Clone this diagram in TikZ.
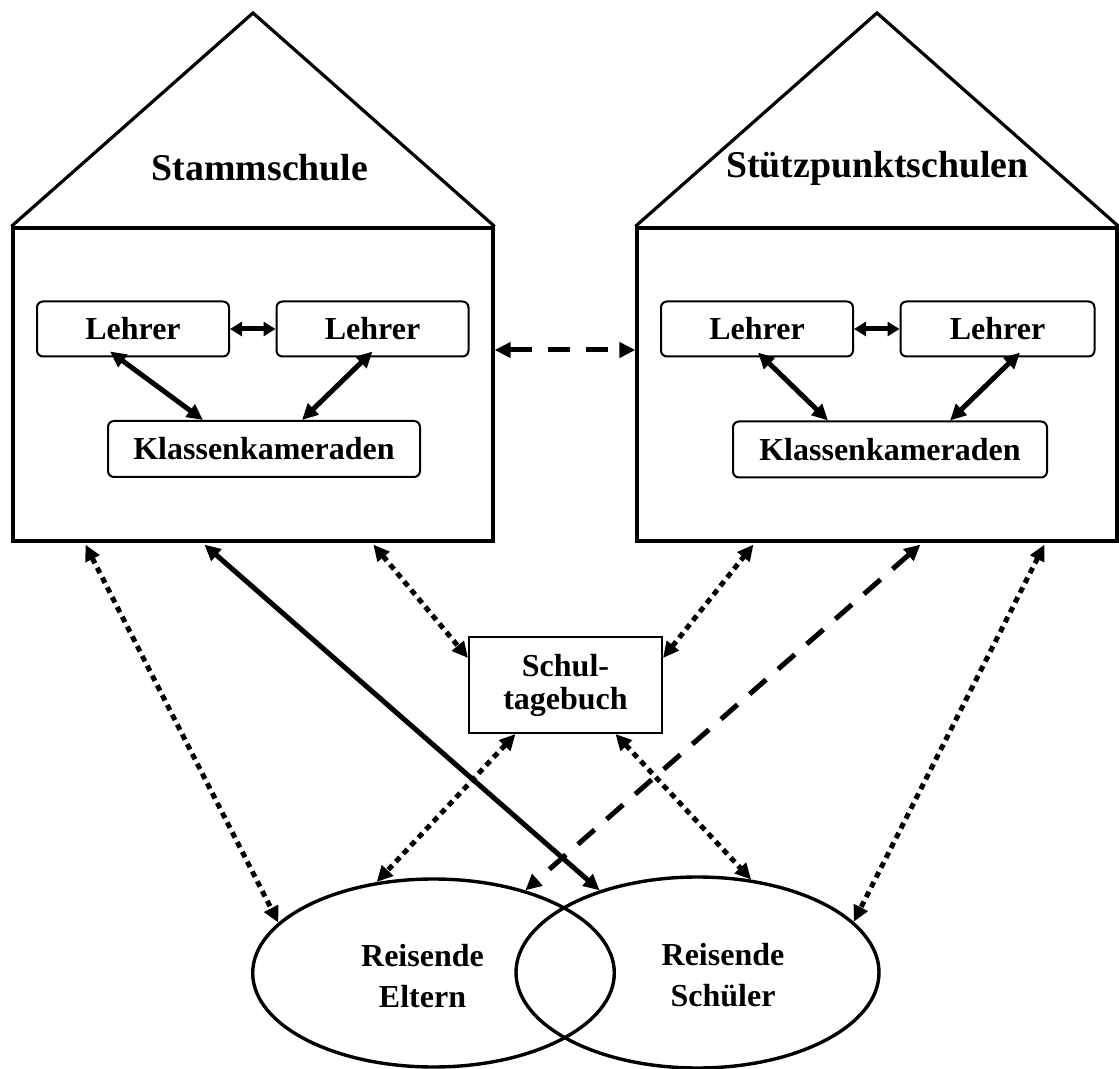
\documentclass[tikz,border=0pt]{standalone}
\usepackage{fontspec}
\setmainfont{Liberation Serif}
\usetikzlibrary{arrows.meta,shapes.geometric,calc}

\begin{document}
\begin{tikzpicture}[x=0.5pt,y=-0.5pt,
  housebody/.style={draw, line width=1.6pt, minimum width=240pt, minimum height=156.5pt, inner sep=0pt},
  roofline/.style={line width=1.6pt, line join=miter},
  titletext/.style={inner sep=0pt, font=\fontsize{18.9}{22}\selectfont\bfseries},
  teacherbox/.style={draw, rounded corners=3pt, line width=1pt, minimum width=96pt, minimum height=27.5pt, inner sep=0pt, font=\fontsize{16}{19}\selectfont\bfseries},
  classbox/.style={teacherbox, minimum width=156pt, minimum height=28pt},
  diarybox/.style={draw, line width=1pt, minimum width=96.5pt, minimum height=48pt, inner sep=0pt, align=center, font=\fontsize{16}{16.5}\selectfont\bfseries},
  groupellipse/.style={draw, ellipse, line width=1.7pt, inner sep=0pt},
  grouptext/.style={inner sep=0pt, align=center, font=\fontsize{16}{20.5}\selectfont\bfseries},
  biarrow/.style={{Triangle[length=8pt,width=7.5pt]}-{Triangle[length=8pt,width=7.5pt]}, line width=2.5pt},
  shortarrow/.style={{Triangle[length=6pt,width=7pt]}-{Triangle[length=6pt,width=7pt]}, line width=2.5pt},
  dotarrow/.style={biarrow, dash pattern=on 3pt off 2.5pt},
  dasharrow/.style={biarrow, dash pattern=on 11pt off 8pt}
]
\useasboundingbox (0,0) rectangle (1119,1069);

% houses
\node[housebody] (lbody) at (253,384.5) {};
\node[housebody] (rbody) at (877,384.5) {};
\coordinate (lapex) at (253,13);
\coordinate (rapex) at (877,13);
\draw[roofline] (lbody.north west) -- (lapex) -- (lbody.north east);
\draw[roofline] (rbody.north west) -- (rapex) -- (rbody.north east);
\node[titletext] (ltitle) at (260,168) {Stammschule};
\node[titletext] (rtitle) at (877.5,168) {Stützpunktschulen};

% left house inner
\node[teacherbox] (ll1) at (133,329) {Lehrer};
\node[teacherbox] (ll2) at (372.5,329) {Lehrer};
\node[classbox] (lkk) at (264,449) {Klassenkameraden};
\draw[shortarrow] (ll1.east) -- (ll2.west);
\draw[biarrow] ($(ll1.south)+(-23,-6)$) -- ($(lkk.north)+(-61,0)$);
\draw[biarrow] ($(ll2.south)+(0,-6)$) -- ($(lkk.north)+(38,0)$);

% right house inner
\node[teacherbox] (rl1) at (757,329) {Lehrer};
\node[teacherbox, minimum width=97pt] (rl2) at (997.5,329) {Lehrer};
\node[classbox, minimum width=157pt] (rkk) at (890,449.5) {Klassenkameraden};
\draw[shortarrow] (rl1.east) -- (rl2.west);
\draw[biarrow] ($(rl1.south)+(1,-5)$) -- ($(rkk.north)+(-62,0)$);
\draw[biarrow] ($(rl2.south)+(22.5,-5)$) -- ($(rkk.north)+(60,0)$);

% link between houses
\draw[dasharrow] ($(lbody.east)+(0,-34.5)$) -- ($(rbody.west)+(0,-34.5)$);

% diary
\node[diarybox] (diary) at (565.5,685) {Schul-\\tagebuch};

% groups
\node[groupellipse, minimum width=180.8pt, minimum height=94pt] (parents) at (433.5,973) {};
\node[groupellipse, minimum width=181.5pt, minimum height=95.5pt] (pupils) at (697.5,972.5) {};
\node[grouptext] (parentstext) at (422.5,976) {Reisende\\Eltern};
\node[grouptext] (pupilstext) at (723,975) {Reisende\\Schüler};

% connectors
\draw[dotarrow] ($(lbody.south west)+(74,2)$) -- (parents.162);
\draw[biarrow] ($(lbody.south west)+(193,2)$) -- (pupils.140);
\draw[dotarrow] ($(lbody.south west)+(362,2)$) -- ($(diary.west)+(0,-27)$);
\draw[dotarrow] ($(diary.east)+(0,-27)$) -- ($(rbody.south west)+(118,2)$);
\draw[dasharrow] ($(rbody.south west)+(285,2)$) -- (parents.42);
\draw[dotarrow] ($(rbody.south west)+(409,2)$) -- (pupils.18);
\draw[dotarrow] ($(diary.south)+(-50,0)$) -- (parents.122);
\draw[dotarrow] ($(diary.south)+(50,0)$) -- (pupils.60);
\end{tikzpicture}
\end{document}
